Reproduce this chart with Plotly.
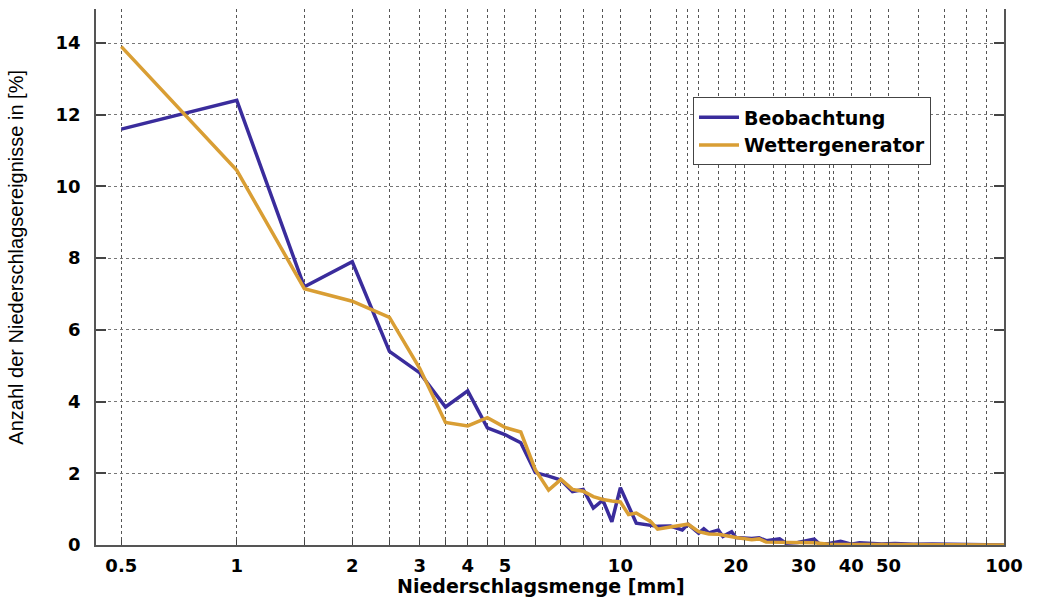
import plotly.graph_objects as go

# Observation (Beobachtung)
x_obs = [0.5, 1, 1.5, 2, 2.5, 3, 3.5, 4, 4.5, 5, 5.5, 6, 6.5, 7, 7.5, 8, 8.5, 9, 9.5, 10,
         11, 12, 12.5, 13.5, 14.5, 15, 16, 16.5, 17, 18, 18.5, 19.5, 20, 22, 23, 24, 26,
         27, 29, 32, 33, 35, 37.5, 40, 42, 48, 52, 58, 65, 100]
y_obs = [11.6, 12.4, 7.2, 7.9, 5.4, 4.8, 3.85, 4.3, 3.27, 3.08, 2.85, 2.02, 1.92, 1.81, 1.49,
         1.55, 1.03, 1.25, 0.65, 1.6, 0.61, 0.56, 0.52, 0.53, 0.42, 0.58, 0.33, 0.45, 0.34,
         0.42, 0.24, 0.37, 0.21, 0.18, 0.2, 0.12, 0.17, 0.05, 0.07, 0.16, 0.03, 0.04, 0.1,
         0.02, 0.06, 0.03, 0.04, 0.02, 0.03, 0.0]

# Weather generator (Wettergenerator)
x_gen = [0.5, 1, 1.5, 2, 2.5, 3, 3.5, 4, 4.5, 5, 5.5, 6, 6.5, 7, 7.5, 8, 8.5, 9, 9.5, 10,
         10.5, 11, 12, 12.5, 13.5, 15, 16, 17, 18, 19, 20, 22, 23, 24, 28, 32, 35, 40, 50,
         60, 100]
y_gen = [13.9, 10.45, 7.15, 6.8, 6.35, 4.92, 3.42, 3.32, 3.55, 3.28, 3.15, 2.1, 1.53, 1.83,
         1.55, 1.5, 1.35, 1.27, 1.23, 1.2, 0.85, 0.89, 0.65, 0.44, 0.5, 0.58, 0.37, 0.31,
         0.3, 0.25, 0.21, 0.15, 0.17, 0.08, 0.06, 0.06, 0.02, 0.02, 0.01, 0.01, 0.0]

# Vertical grid positions and labels
x_grid = [0.5, 1, 1.5, 2, 2.5, 3, 3.5, 4, 4.5, 5, 6, 7, 8, 9, 10, 12, 14, 15, 16, 18, 20,
          21, 25, 27, 30, 32, 35, 36, 40, 45, 50, 60, 70, 80, 90, 100]
x_labeled = {0.5: "0.5", 1: "1", 2: "2", 3: "3", 4: "4", 5: "5", 10: "10", 20: "20",
             30: "30", 40: "40", 50: "50", 100: "100"}
y_ticks = [0, 2, 4, 6, 8, 10, 12, 14]

BLUE = "#3a2c9c"
ORANGE = "#d99e34"
BOLD = "DejaVu Sans"

fig = go.Figure()
fig.add_trace(go.Scatter(x=x_obs, y=y_obs, mode="lines", name="Beobachtung",
                         line=dict(color=BLUE, width=3.5)))
fig.add_trace(go.Scatter(x=x_gen, y=y_gen, mode="lines", name="Wettergenerator",
                         line=dict(color=ORANGE, width=3.5)))

fig.update_layout(
    width=1047, height=599,
    margin=dict(l=96, r=43, t=9, b=54),
    paper_bgcolor="white", plot_bgcolor="white",
    showlegend=True,
    legend=dict(x=0.6575, y=0.835, xanchor="left", yanchor="top",
                bgcolor="white", bordercolor="#444", borderwidth=1,
                font=dict(family=BOLD, size=19, color="black", weight="bold"),
                tracegroupgap=0, itemwidth=40),
    font=dict(family=BOLD, color="black"),
)

fig.update_xaxes(
    type="log", range=[-0.367, 2.0],
    tickvals=x_grid, ticktext=[x_labeled.get(v, "") for v in x_grid],
    tickfont=dict(family=BOLD, size=18, color="black", weight="bold"),
    ticks="inside", ticklen=5, tickcolor="#444", tickwidth=1,
    showgrid=True, gridcolor="#555", griddash="dot", gridwidth=1,
    showline=True, linecolor="#555", linewidth=1.5, mirror=False,
    zeroline=False, ticklabelstandoff=4,
)
fig.update_yaxes(
    range=[0, 14.95], tickvals=y_ticks,
    tickfont=dict(family=BOLD, size=18, color="black", weight="bold"),
    ticks="inside", ticklen=10, tickcolor="#444", tickwidth=1.5,
    showgrid=True, gridcolor="#777", griddash="dot", gridwidth=1,
    showline=True, linecolor="#555", linewidth=1.5, mirror="ticks",
    zeroline=False, ticklabelstandoff=10,
)

fig.add_annotation(text="Anzahl der Niederschlagsereignisse in [%]",
                   xref="paper", yref="paper", x=-0.0876, y=0.537,
                   xanchor="center", yanchor="middle", textangle=-90, showarrow=False,
                   font=dict(family="Liberation Sans", size=20, color="black"))
fig.add_annotation(text="Niederschlagsmenge [mm]",
                   xref="paper", yref="paper", x=0.49, y=-0.0522,
                   xanchor="center", yanchor="top", showarrow=False,
                   font=dict(family=BOLD, size=19, color="black", weight="bold"))

fig.write_html("out.html")
